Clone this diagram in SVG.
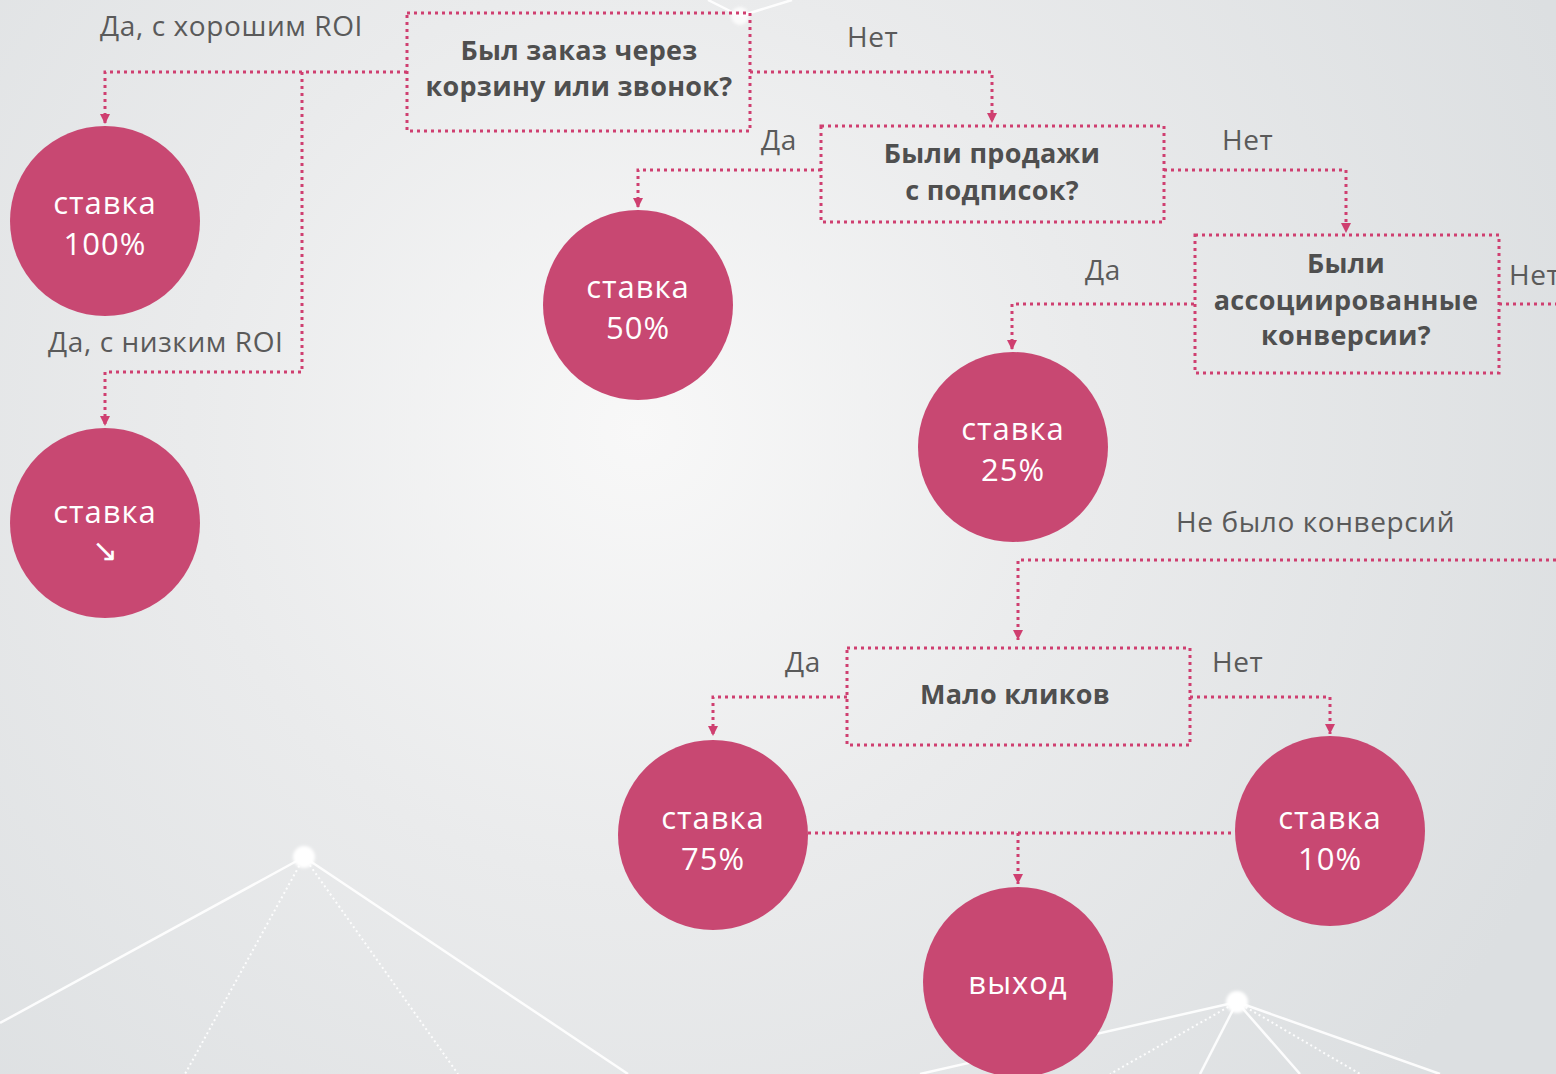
<svg xmlns="http://www.w3.org/2000/svg" width="1556" height="1074" viewBox="0 0 1556 1074">
  <defs>
    <radialGradient id="bg" cx="640" cy="430" r="1000" gradientUnits="userSpaceOnUse">
      <stop offset="0" stop-color="#f8f8f8"/>
      <stop offset="0.45" stop-color="#eaebec"/>
      <stop offset="1" stop-color="#dcdfe1"/>
    </radialGradient>
    <marker id="arr" markerWidth="12" markerHeight="12" refX="10" refY="5" orient="auto" markerUnits="userSpaceOnUse">
      <path d="M0,0 L10,5 L0,10 z" fill="#cf3f70"/>
    </marker>
    <filter id="soft" x="-1" y="-1" width="3" height="3">
      <feGaussianBlur stdDeviation="1.5"/>
    </filter>
  </defs>
  <style>
    .conn { fill: none; stroke: #cf3f70; stroke-width: 3; stroke-dasharray: 3 4; }
    .box { fill: none; stroke: #cf3f70; stroke-width: 3; stroke-dasharray: 3 4; }
    .circ { fill: #c84872; }
    .q { font-family: "Open Sans", "Noto Sans", sans-serif; font-weight: bold; font-size: 27px; letter-spacing: 0.3px; fill: #4f4f4f; text-anchor: middle; }
    .lbl { font-family: "Open Sans", "Noto Sans", sans-serif; font-size: 28px; letter-spacing: 0.6px; fill: #5a5a5a; }
    .ct { font-family: "Open Sans", "Noto Sans", sans-serif; font-size: 31px; letter-spacing: 1px; fill: #ffffff; text-anchor: middle; }
    .bgl { stroke: #ffffff; stroke-width: 2.5; fill: none; opacity: 0.9; }
    .bgd { stroke: #ffffff; stroke-width: 2; fill: none; stroke-dasharray: 2 3; opacity: 0.9; }
  </style>

  <rect x="0" y="0" width="1556" height="1074" fill="url(#bg)"/>

  <g id="background-network">
    <line class="bgl" x1="304" y1="857" x2="0" y2="1023"/>
    <line class="bgd" x1="304" y1="857" x2="185" y2="1074"/>
    <line class="bgd" x1="304" y1="857" x2="458" y2="1074"/>
    <line class="bgl" x1="304" y1="857" x2="628" y2="1074"/>
    <circle cx="304" cy="857" r="11" fill="#ffffff" filter="url(#soft)"/>
    <line class="bgl" x1="1237" y1="1002" x2="920" y2="1074"/>
    <line class="bgd" x1="1237" y1="1002" x2="1110" y2="1074"/>
    <line class="bgl" x1="1237" y1="1002" x2="1200" y2="1074"/>
    <line class="bgl" x1="1237" y1="1002" x2="1300" y2="1074"/>
    <line class="bgd" x1="1237" y1="1002" x2="1360" y2="1074"/>
    <line class="bgl" x1="1237" y1="1002" x2="1440" y2="1074"/>
    <circle cx="1237" cy="1002" r="11" fill="#ffffff" filter="url(#soft)"/>
    <line class="bgl" x1="740" y1="16" x2="708" y2="0" opacity="0.6"/>
    <line class="bgl" x1="740" y1="16" x2="792" y2="0" opacity="0.6"/>
    <circle cx="740" cy="16" r="9" fill="#ffffff" filter="url(#soft)" opacity="0.8"/>
  </g>

  <g id="connectors">
    <path class="conn" d="M407,72 H105 V124" marker-end="url(#arr)"/>
    <path class="conn" d="M302,72 V372 H105 V426" marker-end="url(#arr)"/>
    <path class="conn" d="M750,72 H992 V123" marker-end="url(#arr)"/>
    <path class="conn" d="M821,170 H638 V208" marker-end="url(#arr)"/>
    <path class="conn" d="M1164,170 H1346 V233" marker-end="url(#arr)"/>
    <path class="conn" d="M1194,304 H1012 V350" marker-end="url(#arr)"/>
    <path class="conn" d="M1499,304 H1556"/>
    <path class="conn" d="M1556,560 H1018 V640" marker-end="url(#arr)"/>
    <path class="conn" d="M847,697 H713 V736" marker-end="url(#arr)"/>
    <path class="conn" d="M1190,697 H1330 V734" marker-end="url(#arr)"/>
    <path class="conn" d="M808,833 H1235"/>
    <path class="conn" d="M1018,833 V884" marker-end="url(#arr)"/>
  </g>

  <g id="labels">
    <text class="lbl" x="100" y="36">Да, с хорошим ROI</text>
    <text class="lbl" x="847" y="47">Нет</text>
    <text class="lbl" x="761" y="150">Да</text>
    <text class="lbl" x="1222" y="150">Нет</text>
    <text class="lbl" x="1085" y="280">Да</text>
    <text class="lbl" x="1509" y="285">Нет</text>
    <text class="lbl" x="48" y="352">Да, с низким ROI</text>
    <text class="lbl" x="1176" y="532">Не было конверсий</text>
    <text class="lbl" x="785" y="672">Да</text>
    <text class="lbl" x="1212" y="672">Нет</text>
  </g>

  <g id="q-order">
    <rect class="box" x="407" y="13" width="343" height="118"/>
    <text class="q" x="579" y="60">Был заказ через</text>
    <text class="q" x="579" y="96">корзину или звонок?</text>
  </g>
  <g id="q-subscriptions">
    <rect class="box" x="821" y="126" width="343" height="96"/>
    <text class="q" x="992" y="163">Были продажи</text>
    <text class="q" x="992" y="200">с подписок?</text>
  </g>
  <g id="q-assisted">
    <rect class="box" x="1195" y="235" width="304" height="138"/>
    <text class="q" x="1346" y="273">Были</text>
    <text class="q" x="1346" y="310">ассоциированные</text>
    <text class="q" x="1346" y="345">конверсии?</text>
  </g>
  <g id="q-few-clicks">
    <rect class="box" x="847" y="648" width="343" height="97"/>
    <text class="q" x="1015" y="704">Мало кликов</text>
  </g>

  <g id="rate-100">
    <circle class="circ" cx="105" cy="221" r="95"/>
    <text class="ct" x="105" y="214">ставка</text>
    <text class="ct" x="105" y="255">100%</text>
  </g>
  <g id="rate-down">
    <circle class="circ" cx="105" cy="523" r="95"/>
    <text class="ct" x="105" y="523">ставка</text>
    <text class="ct" x="105" y="561" font-family="DejaVu Sans, sans-serif" font-size="22" letter-spacing="0">↘</text>
  </g>
  <g id="rate-50">
    <circle class="circ" cx="638" cy="305" r="95"/>
    <text class="ct" x="638" y="298">ставка</text>
    <text class="ct" x="638" y="339">50%</text>
  </g>
  <g id="rate-25">
    <circle class="circ" cx="1013" cy="447" r="95"/>
    <text class="ct" x="1013" y="440">ставка</text>
    <text class="ct" x="1013" y="481">25%</text>
  </g>
  <g id="rate-75">
    <circle class="circ" cx="713" cy="835" r="95"/>
    <text class="ct" x="713" y="829">ставка</text>
    <text class="ct" x="713" y="870">75%</text>
  </g>
  <g id="rate-10">
    <circle class="circ" cx="1330" cy="831" r="95"/>
    <text class="ct" x="1330" y="829">ставка</text>
    <text class="ct" x="1330" y="870">10%</text>
  </g>
  <g id="exit">
    <circle class="circ" cx="1018" cy="982" r="95"/>
    <text class="ct" x="1018" y="994">выход</text>
  </g>
</svg>
